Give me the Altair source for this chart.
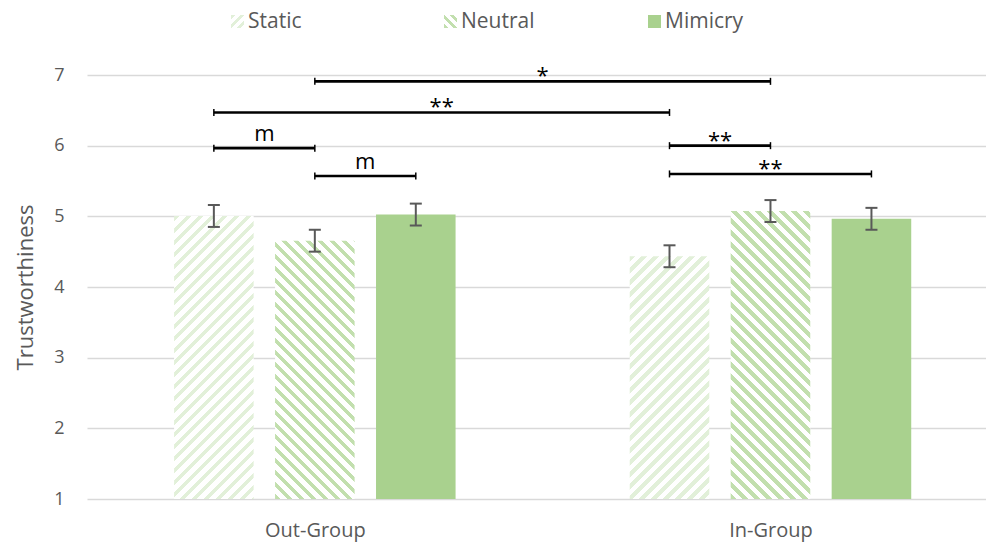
import json
import altair as alt
import pandas as pd

# ---- data -------------------------------------------------------------
groups = ["Out-Group", "In-Group"]
conditions = ["Static", "Neutral", "Mimicry"]

bar_group = ["Out-Group", "Out-Group", "Out-Group", "In-Group", "In-Group", "In-Group"]
bar_condition = ["Static", "Neutral", "Mimicry", "Static", "Neutral", "Mimicry"]
bar_mean = [5.005, 4.655, 5.025, 4.435, 5.075, 4.965]
bar_sem = [0.155, 0.155, 0.155, 0.155, 0.155, 0.155]

# significance brackets: (group, condition) -> (group, condition)
sig_from_group = ["Out-Group", "Out-Group", "Out-Group", "Out-Group", "In-Group", "In-Group"]
sig_from_cond = ["Neutral", "Static", "Static", "Neutral", "Static", "Static"]
sig_to_group = ["In-Group", "In-Group", "Out-Group", "Out-Group", "In-Group", "In-Group"]
sig_to_cond = ["Neutral", "Static", "Neutral", "Mimicry", "Neutral", "Mimicry"]
sig_level = [6.91, 6.47, 5.965, 5.57, 6.0, 5.6]
sig_label = ["*", "**", "m", "m", "**", "**"]

y_ticks = [1, 2, 3, 4, 5, 6, 7]

# ---- layout / style ---------------------------------------------------
W, H = 899, 424
X_DOMAIN = [-0.5, 1.473]
Y_DOMAIN = [1, 7]
PX_X = W / (X_DOMAIN[1] - X_DOMAIN[0])
PX_Y = H / (Y_DOMAIN[1] - Y_DOMAIN[0])
COND_STEP = 0.2216          # spacing of bars inside a group (x units)
BAR_HALF = 0.0873           # half bar width (x units)
CAP_HALF = 6 / PX_X         # half width of error-bar caps
END_TICK = 3.5 / PX_Y       # half height of bracket end ticks

FONT = "Open Sans"
GREY = "#595959"
GREEN = "#A9D18E"
STRIPE = {"Static": "#E2F0D9", "Neutral": "#C2DFAE"}
RISING = {"Static": True, "Neutral": False}


def position(group, cond):
    return groups.index(group) + (conditions.index(cond) - 1) * COND_STEP


def stripe_fill(color, w, h, rising, period=12.0, frac=0.45):
    """Diagonal 45-degree stripes as a hard-stop linear gradient."""
    total = w + h
    n = total / period
    k = total / (w * w + h * h)
    stops = []
    i = 0
    while i < n:
        a = i / n
        b = min((i + frac) / n, 1.0)
        c = min((i + 1) / n, 1.0)
        stops += [
            alt.GradientStop(offset=a, color=color),
            alt.GradientStop(offset=b, color=color),
            alt.GradientStop(offset=b, color="#ffffff"),
            alt.GradientStop(offset=c, color="#ffffff"),
        ]
        i += 1
    if rising:
        return alt.LinearGradient(gradient="linear", stops=stops,
                                  x1=0, y1=0, x2=k * w, y2=k * h)
    return alt.LinearGradient(gradient="linear", stops=stops,
                              x1=0, y1=1, x2=k * w, y2=1 - k * h)


bars = pd.DataFrame({
    "group": bar_group,
    "condition": bar_condition,
    "mean": bar_mean,
    "sem": bar_sem,
})
bars["pos"] = [position(g, c) for g, c in zip(bar_group, bar_condition)]
bars["lo"] = bars["mean"] - bars["sem"]
bars["hi"] = bars["mean"] + bars["sem"]

sig = pd.DataFrame({
    "label": sig_label,
    "level": sig_level,
    "a": [position(g, c) for g, c in zip(sig_from_group, sig_from_cond)],
    "b": [position(g, c) for g, c in zip(sig_to_group, sig_to_cond)],
})
sig["mid"] = (sig["a"] + sig["b"]) / 2
ends = pd.DataFrame({
    "x": list(sig["a"]) + list(sig["b"]),
    "level": list(sig["level"]) * 2,
})

x_scale = alt.Scale(domain=X_DOMAIN, nice=False, zero=False)
y_scale = alt.Scale(domain=Y_DOMAIN, nice=False, zero=False)
x_axis = alt.Axis(
    values=[0, 1], labelExpr=f"{json.dumps(groups)}[datum.value]",
    title=None, grid=False, ticks=False, domain=False,
    labelFont=FONT, labelFontSize=20, labelColor=GREY, labelPadding=21,
)
y_axis = alt.Axis(
    values=y_ticks, title="Trustworthiness", grid=True, gridColor="#D9D9D9",
    gridWidth=1.4, ticks=False, domain=False,
    labelFont=FONT, labelFontSize=18, labelColor=GREY, labelPadding=23,
    titleFont=FONT, titleFontSize=22, titleFontWeight="normal", titleColor=GREY,
    titleAngle=-90, titleBaseline="alphabetic", titleX=-55, titleY=H / 2,
)


def X(field):
    return alt.X(field, type="quantitative", scale=x_scale, axis=x_axis)


def Y(field):
    return alt.Y(field, type="quantitative", scale=y_scale, axis=y_axis)


layers = []

# bars, one layer each (stripe geometry depends on the bar's size)
for _, row in bars.iterrows():
    cond = row["condition"]
    if cond == "Mimicry":
        fill = GREEN
    else:
        w = 2 * BAR_HALF * PX_X
        h = (row["mean"] - Y_DOMAIN[0]) * PX_Y
        fill = stripe_fill(STRIPE[cond], w, h, RISING[cond])
    layers.append(
        alt.Chart(bars)
        .transform_filter(f"datum.group == '{row['group']}' && datum.condition == '{cond}'")
        .transform_calculate(x0=f"datum.pos - {BAR_HALF}", x1=f"datum.pos + {BAR_HALF}")
        .mark_bar(fill=fill, strokeWidth=0)
        .encode(x=X("x0"), x2=alt.X2("x1"), y=Y("mean"), y2=alt.datum(Y_DOMAIN[0]))
    )

# error bars
err = alt.Chart(bars)
layers.append(
    err.mark_rule(color=GREY, strokeWidth=2).encode(x=X("pos"), y=Y("lo"), y2=alt.Y2("hi"))
)
for end in ["lo", "hi"]:
    layers.append(
        err.transform_calculate(c0=f"datum.pos - {CAP_HALF}", c1=f"datum.pos + {CAP_HALF}")
        .mark_rule(color=GREY, strokeWidth=2)
        .encode(x=X("c0"), x2=alt.X2("c1"), y=Y(end))
    )

# significance brackets
layers.append(
    alt.Chart(sig).mark_rule(color="black", strokeWidth=2.6)
    .encode(x=X("a"), x2=alt.X2("b"), y=Y("level"))
)
layers.append(
    alt.Chart(ends)
    .transform_calculate(t0=f"datum.level - {END_TICK}", t1=f"datum.level + {END_TICK}")
    .mark_rule(color="black", strokeWidth=1.5)
    .encode(x=X("x"), y=Y("t0"), y2=alt.Y2("t1"))
)
layers.append(
    alt.Chart(sig).transform_filter("datum.label != 'm'")
    .mark_text(font=FONT, fontSize=22, color="black", baseline="alphabetic", dy=2)
    .encode(x=X("mid"), y=Y("level"), text="label:N")
)
layers.append(
    alt.Chart(sig).transform_filter("datum.label == 'm'")
    .mark_text(font=FONT, fontSize=22, color="black", baseline="alphabetic", dy=-7)
    .encode(x=X("mid"), y=Y("level"), text="label:N")
)

# legend across the top
legend_x = [144, 357, 561]
for i, cond in enumerate(conditions):
    one = alt.Chart(pd.DataFrame({"condition": [cond]}))
    fill = GREEN if cond == "Mimicry" else stripe_fill(STRIPE[cond], 13, 13, RISING[cond], period=9)
    layers.append(
        one.mark_rect(fill=fill, strokeWidth=0).encode(
            x=alt.value(legend_x[i]), x2=alt.value(legend_x[i] + 13),
            y=alt.value(-60), y2=alt.value(-47))
    )
    layers.append(
        one.mark_text(font=FONT, fontSize=21, color=GREY, align="left", baseline="middle")
        .encode(x=alt.value(legend_x[i] + 17), y=alt.value(-53), text="condition:N")
    )

chart = (
    alt.layer(*layers)
    .properties(
        width=W, height=H,
        padding={"left": 87, "top": 75, "right": 0, "bottom": 43},
        autosize=alt.AutoSizeParams(type="none"),
        background="white",
    )
    .configure_view(stroke=None)
)

chart.save("out.html", embed_options={"renderer": "svg", "actions": False})
